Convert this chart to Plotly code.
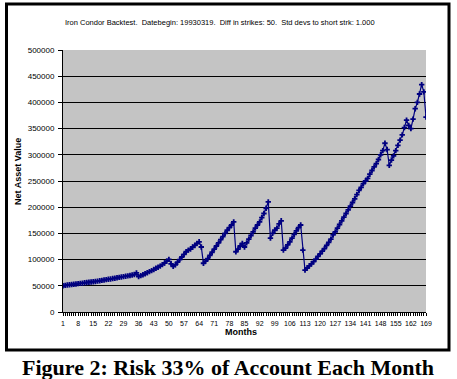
import plotly.graph_objects as go

months = list(range(1, 170))
nav = [
    50000, 50800, 51500, 52000, 52600, 53000, 53500, 54200, 54600, 55000,
    55800, 56200, 56900, 57300, 57800, 58200, 58900, 59500, 60300, 61000,
    61800, 62500, 63000, 63800, 64500, 65300, 66000, 66800, 67500, 68300,
    69000, 69700, 70500, 71500, 74500, 67500, 69500, 71000, 73000, 75000,
    77000, 79000, 81000, 83500, 85500, 87500, 90500, 93500, 97000, 100500,
    92000, 87000, 90000, 95000, 100000, 105000, 110000, 115000, 118000, 120000,
    124000, 127000, 131000, 134000, 124000, 93000, 97000, 102000, 108000, 114000,
    120000, 126000, 132000, 138000, 144000, 150000, 156000, 161000, 166000, 172000,
    115000, 120000, 126000, 131000, 124000, 132000, 139000, 146000, 153000, 160000,
    166000, 172000, 180000, 188000, 198000, 210000, 141000, 150000, 156000, 160000,
    168000, 174000, 118000, 122000, 128000, 134000, 141000, 148000, 155000, 161000,
    166000, 118000, 80000, 84000, 88000, 92000, 96000, 101000, 106000, 111000,
    116000, 121000, 127000, 133000, 139000, 147000, 153000, 160000, 167000, 174000,
    181000, 188000, 195000, 202000, 209000, 216000, 224000, 232000, 238000, 245000,
    250000, 255000, 263000, 270000, 277000, 283000, 291000, 300000, 308000, 322000,
    310000, 280000, 290000, 298000, 308000, 318000, 328000, 338000, 352000, 366000,
    356000, 350000, 368000, 388000, 400000, 416000, 434000, 420000, 372000,
]
x_tick_vals = list(range(1, 170, 7))
x_tick_text = [str(v) for v in x_tick_vals]
y_tick_vals = list(range(0, 500001, 50000))

title_text = ("Iron Condor Backtest.  Datebegin: 19930319.  Diff in strikes: 50.  "
              "Std devs to short strk: 1.000")
caption = "Figure 2: Risk 33% of Account Each Month"

W, H = 457, 379
L, R, T, B = 63, 426, 50, 312

fig = go.Figure()
fig.add_trace(go.Scatter(
    x=months, y=nav, mode="lines+markers",
    line=dict(color="#000080", width=1.2),
    marker=dict(symbol="cross", size=4.5, color="#000080", line=dict(width=0)),
    showlegend=False,
))

sans = "Liberation Sans, Arial, sans-serif"

fig.update_layout(
    width=W, height=H,
    margin=dict(l=L, r=W - R, t=T, b=H - B, pad=0),
    paper_bgcolor="white",
    plot_bgcolor="#c4c4c4",
    font=dict(family=sans, size=7, color="black"),
    xaxis=dict(
        range=[1, 169], tickmode="array", tickvals=x_tick_vals, ticktext=x_tick_text,
        ticks="outside", ticklen=3, tickcolor="black", tickwidth=1,
        minor=dict(dtick=1, tick0=1, ticks="outside", ticklen=3, tickcolor="black", tickwidth=1),
        showline=True, linecolor="black", linewidth=1,
        showgrid=False, zeroline=False,
        tickfont=dict(size=7, family=sans),
        ticklabelstandoff=2,
    ),
    yaxis=dict(
        range=[0, 500000], tickmode="array", tickvals=y_tick_vals,
        ticktext=[str(v) for v in y_tick_vals],
        ticks="outside", ticklen=4, tickcolor="black", tickwidth=1,
        showline=True, linecolor="black", linewidth=1,
        showgrid=True, gridcolor="black", gridwidth=1,
        zeroline=False,
        tickfont=dict(size=8, family=sans),
        ticklabelstandoff=2,
    ),
)

fig.add_annotation(text=title_text, xref="paper", yref="paper",
                   x=(220 - L) / (R - L), y=(B - 22) / (B - T),
                   showarrow=False, xanchor="center", yanchor="middle",
                   font=dict(size=7.5, family=sans))
fig.add_annotation(text="<b>Net Asset Value</b>", xref="paper", yref="paper",
                   x=(18 - L) / (R - L), y=(B - 172) / (B - T), textangle=-90,
                   showarrow=False, xanchor="center", yanchor="middle",
                   font=dict(size=9, family=sans))
fig.add_annotation(text="<b>Months</b>", xref="paper", yref="paper",
                   x=(241 - L) / (R - L), y=(B - 332) / (B - T),
                   showarrow=False, xanchor="center", yanchor="middle",
                   font=dict(size=9, family=sans))
fig.add_annotation(text="<b>" + caption + "</b>", xref="paper", yref="paper",
                   x=(228 - L) / (R - L), y=(B - 367) / (B - T),
                   showarrow=False, xanchor="center", yanchor="middle",
                   font=dict(size=22, family="Liberation Serif, Times New Roman, serif"))

fig.add_shape(type="rect", xref="paper", yref="paper",
              x0=(6.5 - L) / (R - L), x1=(449 - L) / (R - L),
              y0=(B - 350) / (B - T), y1=(B - 4) / (B - T),
              line=dict(color="black", width=3), fillcolor="rgba(0,0,0,0)", layer="above")

fig.write_html("out.html", config={"displayModeBar": False},
               post_script="document.body.style.margin='0';document.body.style.padding='0';")
